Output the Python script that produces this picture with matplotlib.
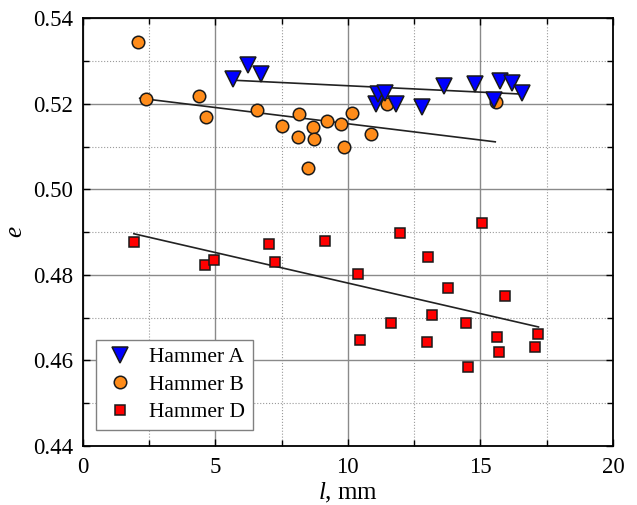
import matplotlib
matplotlib.use("Agg")
import matplotlib.pyplot as plt
from matplotlib.ticker import MultipleLocator, FormatStrFormatter

# Hammer A
a_x = [5.66, 6.23, 6.73, 11.08, 11.15, 11.40, 11.80, 12.80, 13.62, 14.81, 15.50, 15.75, 16.19, 16.56]
a_y = [0.5258, 0.5290, 0.5269, 0.5200, 0.5222, 0.5226, 0.5200, 0.5192, 0.5242, 0.5246, 0.5210, 0.5254, 0.5248, 0.5226]
# Hammer B
b_x = [2.07, 2.37, 4.38, 4.64, 6.56, 7.52, 8.17, 8.12, 8.67, 8.73, 9.23, 8.48, 9.74, 9.86, 10.17, 10.89, 11.49, 15.60]
b_y = [0.5344, 0.5211, 0.5218, 0.5170, 0.5185, 0.5149, 0.5176, 0.5123, 0.5146, 0.5118, 0.5160, 0.5049, 0.5152, 0.5098, 0.5178, 0.5129, 0.5199, 0.5204]
# Hammer D
d_x = [1.93, 4.60, 4.97, 7.04, 7.27, 9.14, 10.38, 10.44, 11.95, 11.64, 13.02, 13.17, 12.99, 13.78, 14.44, 14.53, 15.06, 15.94, 15.61, 15.71, 17.04, 17.19]
d_y = [0.4876, 0.4823, 0.4835, 0.4872, 0.4829, 0.4879, 0.4803, 0.4647, 0.4898, 0.4687, 0.4842, 0.4706, 0.4643, 0.4768, 0.4687, 0.4584, 0.4922, 0.4750, 0.4654, 0.4619, 0.4632, 0.4661]

# Trend lines (endpoints)
a_line_x = [5.72, 16.44]
a_line_y = [0.5255, 0.5223]
b_line_x = [2.15, 15.56]
b_line_y = [0.5213, 0.5111]
d_line_x = [1.93, 17.19]
d_line_y = [0.4896, 0.4678]

plt.rcParams['font.family'] = ['Liberation Serif', 'DejaVu Serif']
plt.rcParams['mathtext.fontset'] = 'custom'
plt.rcParams['mathtext.it'] = 'Liberation Serif:italic'
plt.rcParams['mathtext.rm'] = 'Liberation Serif'

fig = plt.figure(figsize=(6.37, 5.05), dpi=100)
ax = fig.add_axes([0.1298, 0.1172, 0.8325, 0.8466])

ax.plot(a_line_x, a_line_y, color='#222222', lw=1.2, zorder=3)
ax.plot(b_line_x, b_line_y, color='#222222', lw=1.2, zorder=3)
ax.plot(d_line_x, d_line_y, color='#222222', lw=1.2, zorder=3)

ax.plot(b_x, b_y, 'o', ms=9, mfc='#FF8C1A', mec='#1a1a1a', mew=1.1, ls='none', label='Hammer B', zorder=4)
ax.plot(a_x, a_y, 'v', ms=11, mfc='#0000FF', mec='#1a1a1a', mew=1.1, ls='none', label='Hammer A', zorder=5)
ax.plot(d_x, d_y, 's', ms=7, mfc='#FF0000', mec='#1a1a1a', mew=1.1, ls='none', label='Hammer D', zorder=4)

ax.set_xlim(0, 20)
ax.set_ylim(0.44, 0.54)
ax.xaxis.set_major_locator(MultipleLocator(5))
ax.xaxis.set_minor_locator(MultipleLocator(2.5))
ax.yaxis.set_major_locator(MultipleLocator(0.02))
ax.yaxis.set_minor_locator(MultipleLocator(0.01))
ax.yaxis.set_major_formatter(FormatStrFormatter('%.2f'))

ax.grid(True, which='major', color='#8a8a8a', lw=1.0, ls='-')
ax.grid(True, which='minor', color='#9a9a9a', lw=0.8, ls=':')
ax.set_axisbelow(True)

ax.tick_params(which='both', direction='in', top=True, right=True, labelsize=16.5, width=1.0)
ax.tick_params(axis='x', which='major', pad=8)
ax.tick_params(axis='y', which='major', pad=7)
ax.tick_params(which='major', length=5)
ax.tick_params(which='minor', length=4)
for s in ax.spines.values():
    s.set_linewidth(1.3)

ax.set_xlabel(r'$l$, mm', fontsize=18, labelpad=2)
ax.set_ylabel(r'$e$', fontsize=18, labelpad=4)

handles, labels = ax.get_legend_handles_labels()
order = [labels.index('Hammer A'), labels.index('Hammer B'), labels.index('Hammer D')]
leg = ax.legend([handles[i] for i in order], [labels[i] for i in order],
                loc='lower left', bbox_to_anchor=(0.026, 0.037), borderaxespad=0,
                fontsize=15.5, frameon=True, fancybox=False, edgecolor='#808080', framealpha=1,
                handletextpad=0.6, borderpad=0.35, labelspacing=0.35, handlelength=1.5)
leg.get_frame().set_linewidth(1.0)

fig.savefig('out.png', dpi=100)
